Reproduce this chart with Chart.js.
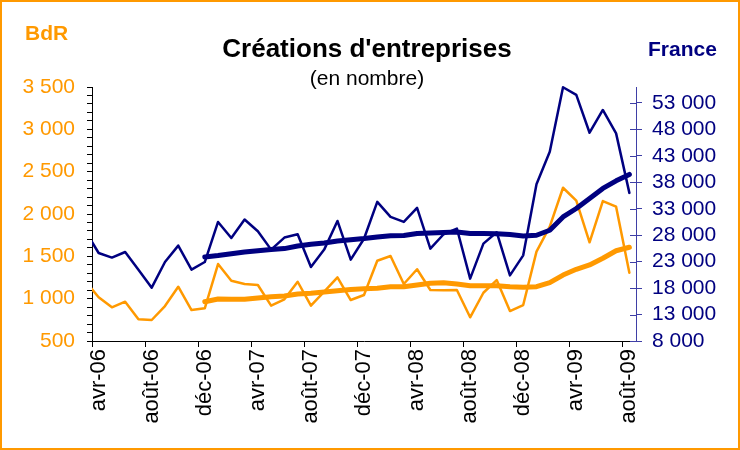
<!DOCTYPE html>
<html><head><meta charset="utf-8">
<script src="https://cdn.jsdelivr.net/npm/chart.js@4.4.1/dist/chart.umd.min.js"></script>
<style>html,body{margin:0;padding:0;background:#fff;overflow:hidden}</style>
</head><body>
<canvas id="c" width="740" height="450" style="width:740px;height:450px;display:block"></canvas>
<script>
// ---- data ----
const months = ['mars-06','avr-06','mai-06','juin-06','juil-06','août-06','sept-06','oct-06','nov-06','déc-06',
 'janv-07','févr-07','mars-07','avr-07','mai-07','juin-07','juil-07','août-07','sept-07','oct-07','nov-07','déc-07',
 'janv-08','févr-08','mars-08','avr-08','mai-08','juin-08','juil-08','août-08','sept-08','oct-08','nov-08','déc-08',
 'janv-09','févr-09','mars-09','avr-09','mai-09','juin-09','juil-09','août-09'];
const firstShown = 'avr-06';
const franceMonthly = [28800,24630,23760,24820,21450,18080,22925,26030,21485,22925,
 30500,27470,30955,28740,25270,27545,28170,21980,25270,30690,23380,27320,
 34290,31450,30500,33150,25460,28170,29250,19780,26410,28560,20400,24190,
 37640,43760,55950,54500,47360,51660,47240,35990];
const franceTrend = [null,null,null,null,null,null,null,null,null,23870,
 24140,24480,24820,25050,25270,25460,25950,26280,26520,26900,27130,27360,
 27660,27900,27950,28300,28420,28490,28610,28300,28300,28270,28110,27850,
 27980,28930,31450,33040,34930,36830,38270,39480];
const bdrMonthly = [1205,1016,898,964,756,748,913,1141,866,886,
 1409,1212,1173,1161,917,992,1200,917,1082,1252,984,1043,
 1448,1504,1173,1347,1102,1100,1102,780,1070,1220,854,925,
 1555,1850,2310,2157,1666,2153,2086,1307];
const bdrTrend = [null,null,null,null,null,null,null,null,null,964,
 996,992,992,1008,1023,1031,1055,1063,1079,1094,1108,1116,
 1122,1141,1141,1161,1181,1189,1173,1153,1153,1153,1141,1134,
 1141,1189,1279,1347,1398,1477,1566,1607];
const leftTicks = [500,1000,1500,2000,2500,3000,3500];
const rightTicks = [8000,13000,18000,23000,28000,33000,38000,43000,48000,53000];
const titleText = "Créations d'entreprises";
const subtitleText = "(en nombre)";
const leftName = "BdR";
const rightName = "France";

// ---- styles ----
const ORANGE = '#FF9900', NAVY = '#000080', AXISBLUE = '#3f3fa6';
const FAM = "'Liberation Sans', Arial, Helvetica, sans-serif";
Chart.defaults.font.family = FAM;
const fmt = v => String(v).replace(/\B(?=(\d{3})+(?!\d))/g, ' ');

const deco = {
  id: 'deco',
  afterDraw(chart) {
    const ctx = chart.ctx, r = chart.scales.yR;
    ctx.save();
    // inner half of right axis ticks (cross ticks)
    ctx.strokeStyle = AXISBLUE; ctx.lineWidth = 1;
    rightTicks.forEach(v => {
      const y = Math.round(r.getPixelForValue(v)) + 0.5;
      ctx.beginPath(); ctx.moveTo(r.left - 6, y); ctx.lineTo(r.left, y); ctx.stroke();
    });
    // texts
    ctx.fillStyle = '#000'; ctx.textAlign = 'center'; ctx.textBaseline = 'alphabetic';
    ctx.font = 'bold 26px ' + FAM; ctx.fillText(titleText, 367, 57);
    ctx.font = '21px ' + FAM; ctx.fillText(subtitleText, 367, 85);
    ctx.textAlign = 'left'; ctx.font = 'bold 21px ' + FAM;
    ctx.fillStyle = ORANGE; ctx.fillText(leftName, 25, 40);
    ctx.fillStyle = NAVY; ctx.fillText(rightName, 648, 56);
    // frame
    ctx.strokeStyle = ORANGE; ctx.lineWidth = 2;
    ctx.strokeRect(1, 1, chart.width - 2, chart.height - 2);
    ctx.restore();
  }
};

const thin = (data, color, axis, order) => ({data, borderColor: color, backgroundColor: color, yAxisID: axis,
  borderWidth: 2.5, pointRadius: 0, tension: 0, borderJoinStyle: 'round', borderCapStyle: 'round', order,
  clip: {left: 0, top: 3, right: 3, bottom: 3}});
const thick = (data, color, axis, order) => ({data, borderColor: color, backgroundColor: color, yAxisID: axis,
  borderWidth: 5, pointRadius: 0, tension: 0, borderJoinStyle: 'round', borderCapStyle: 'round', order,
  clip: {left: 0, top: 3, right: 3, bottom: 3}});

new Chart(document.getElementById('c'), {
  type: 'line',
  data: {
    labels: months,
    datasets: [
      thin(bdrMonthly, ORANGE, 'yL', 4),
      thin(franceMonthly, NAVY, 'yR', 3),
      thick(bdrTrend, ORANGE, 'yL', 2),
      thick(franceTrend, NAVY, 'yR', 1)
    ]
  },
  options: {
    responsive: false, devicePixelRatio: 1, animation: false,
    layout: {padding: {top: 87, left: 0, right: 0, bottom: 0}},
    plugins: {legend: {display: false}, tooltip: {enabled: false}},
    scales: {
      x: {
        type: 'category', min: firstShown, offset: true,
        grid: {display: true, offset: true, drawOnChartArea: false, drawTicks: true, tickLength: 6,
          tickColor: ctx => (ctx.tick && ctx.index % 4 === 0) ? '#000' : 'rgba(0,0,0,0)'},
        border: {display: true, color: '#000', width: 1},
        ticks: {autoSkip: false, maxRotation: 90, minRotation: 90, padding: 2, color: '#000',
          font: {size: 22},
          callback: function(value, index) { return index % 4 === 0 ? this.getLabelForValue(value) : ''; }},
        afterFit: s => { s.height = 109; }
      },
      yL: {
        position: 'left', min: 500, max: 3500,
        afterBuildTicks: s => { const t = []; for (let v = 500; v <= 3500; v += 100) t.push({value: v}); s.ticks = t; },
        grid: {display: true, drawOnChartArea: false, drawTicks: true, tickLength: 5, tickColor: '#000'},
        border: {display: true, color: '#000', width: 1},
        ticks: {autoSkip: false, padding: 12, color: ORANGE, font: {size: 21},
          callback: v => leftTicks.includes(v) ? fmt(v) : ''},
        afterFit: s => { s.width = 92; }
      },
      yR: {
        position: 'right', min: 8000, max: 56000,
        afterBuildTicks: s => { s.ticks = rightTicks.map(v => ({value: v})); },
        grid: {display: true, drawOnChartArea: false, drawTicks: true, tickLength: 6, tickColor: AXISBLUE},
        border: {display: true, color: AXISBLUE, width: 1},
        ticks: {autoSkip: false, padding: 10, color: NAVY, font: {size: 21}, callback: v => fmt(v)},
        afterFit: s => { s.width = 104; }
      }
    }
  },
  plugins: [deco]
});
</script>
</body></html>
